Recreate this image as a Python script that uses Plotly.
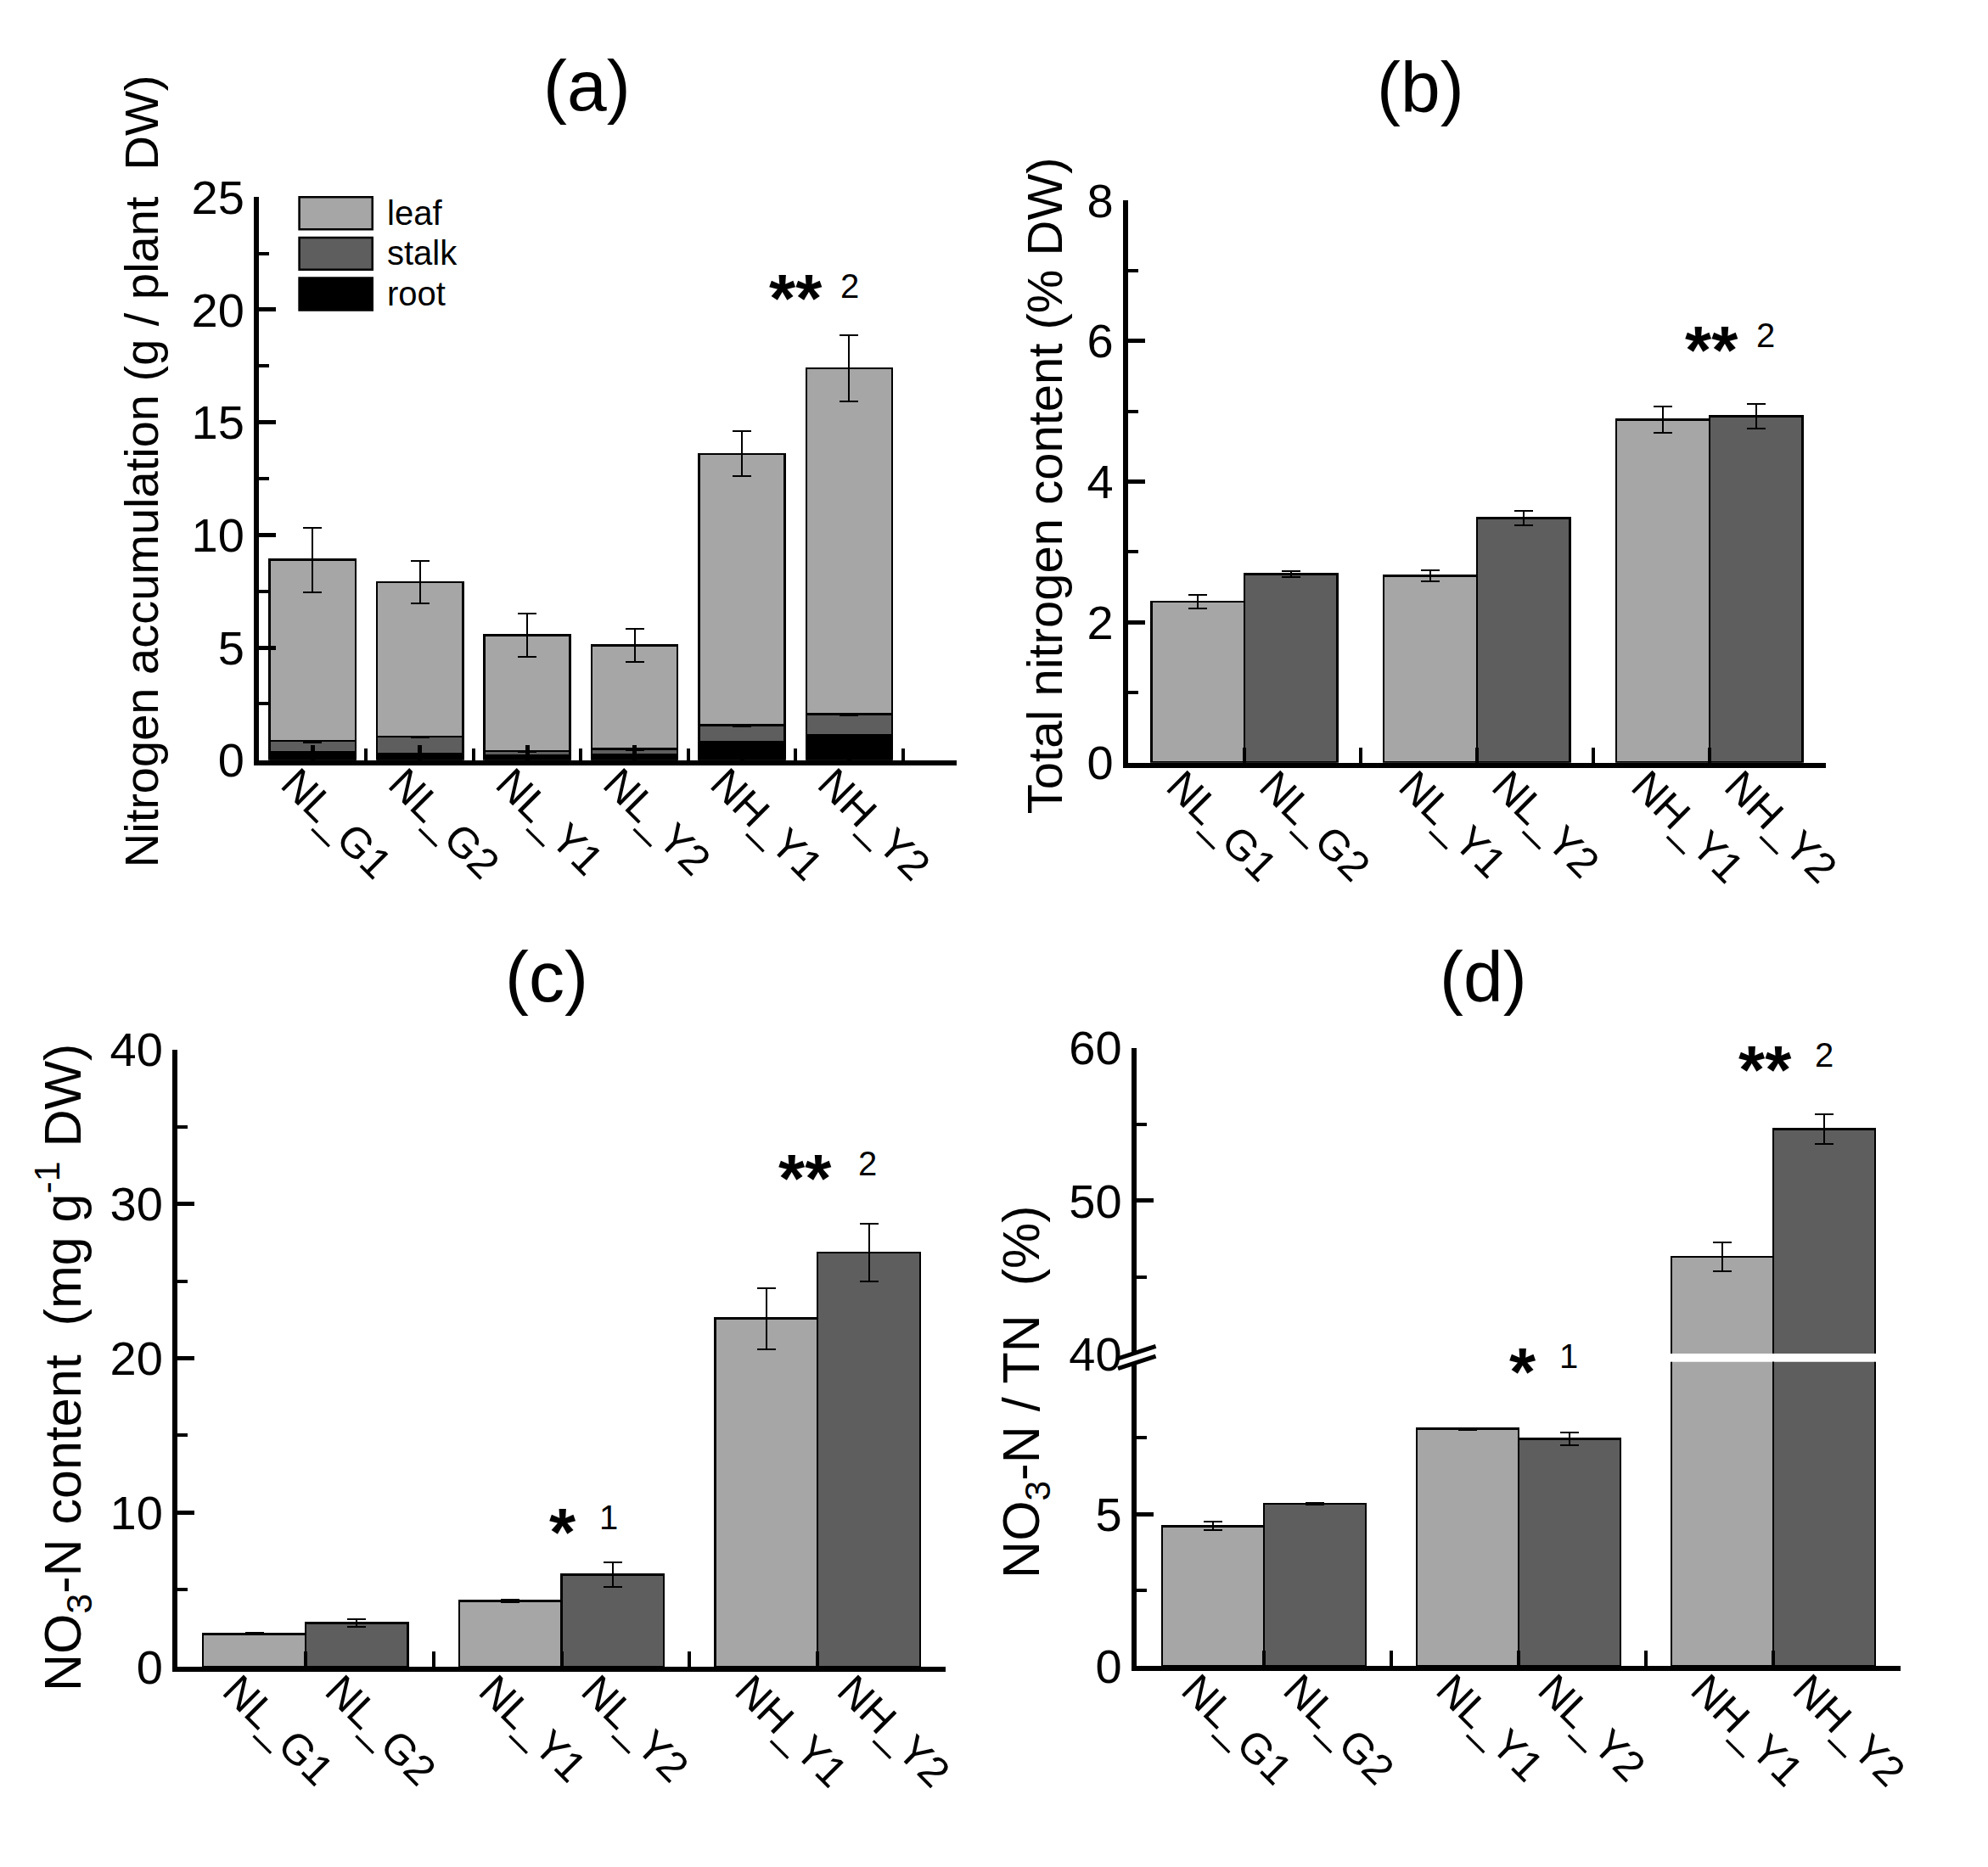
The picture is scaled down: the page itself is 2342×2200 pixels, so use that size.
import plotly.graph_objects as go

W, H = 2342, 2200
FONT = "Liberation Sans, Arial, sans-serif"
LIGHT = "#a6a6a6"
DARK = "#5e5e5e"
ROOT = "#000000"

groups = ["NL_G1", "NL_G2", "NL_Y1", "NL_Y2", "NH_Y1", "NH_Y2"]

# (a) nitrogen accumulation, stacked by organ
root_n = [0.35, 0.30, 0.20, 0.25, 0.80, 1.10]
stalk_n = [0.50, 0.75, 0.20, 0.25, 0.75, 0.95]
leaf_n = [8.05, 6.85, 5.15, 4.60, 12.05, 15.35]
root_err = [0.05, 0.05, 0.05, 0.05, 0.05, 0.05]
stalk_err = [0.06, 0.05, 0.04, 0.04, 0.05, 0.06]
leaf_err = [1.43, 0.93, 0.95, 0.74, 1.00, 1.47]

# (b) total nitrogen content (% DW)
tn = [2.29, 2.68, 2.66, 3.48, 4.88, 4.93]
tn_err = [0.10, 0.04, 0.08, 0.10, 0.19, 0.18]

# (c) NO3-N content (mg/g DW)
no3 = [2.14, 2.85, 4.28, 5.97, 22.57, 26.85]
no3_err = [0.05, 0.25, 0.08, 0.80, 1.97, 1.86]

# (d) NO3-N / TN (%), broken axis
ratio = [4.60, 5.34, 7.80, 7.47, 46.33, 54.69]
ratio_err = [0.14, 0.03, 0.03, 0.21, 0.96, 0.96]


def fx(p):
    return p / W


def fy(p):
    return 1 - p / H


axis_style = dict(showline=True, linecolor="black", linewidth=6, mirror=False,
                  ticks="inside", tickcolor="black", tickwidth=5, ticklen=20,
                  showgrid=False, zeroline=False,
                  tickfont=dict(family=FONT, size=56, color="black"))


def minor(vals, ln=12):
    return dict(tickmode="array", tickvals=vals, ticks="inside", ticklen=ln,
                tickwidth=4, tickcolor="black", showgrid=False)


err = lambda a: dict(type="data", array=a, color="black", thickness=2, width=11)
bar_line = dict(color="black", width=2.5)

fig = go.Figure()

# (a)
xs_a = [1, 2, 3, 4, 5, 6]
for name, vals, e, col in [("root", root_n, root_err, ROOT),
                           ("stalk", stalk_n, stalk_err, DARK),
                           ("leaf", leaf_n, leaf_err, LIGHT)]:
    fig.add_trace(go.Bar(x=xs_a, y=vals, width=0.8, name=name, marker_color=col,
                         marker_line=bar_line, error_y=err(e),
                         xaxis="x", yaxis="y", showlegend=False))

# (b)-(d): paired bars, light = first of pair, dark = second
pos = [2 * g + 0.6 + 0.8 * k for g in range(3) for k in range(2)]


def pair(vals, errs, xa, ya):
    for k, col in [(0, LIGHT), (1, DARK)]:
        fig.add_trace(go.Bar(x=pos[k::2], y=vals[k::2], width=0.8, marker_color=col,
                             marker_line=bar_line, error_y=err(errs[k::2]),
                             xaxis=xa, yaxis=ya, showlegend=False))


pair(tn, tn_err, "x2", "y2")
pair(no3, no3_err, "x3", "y3")
pair(ratio, ratio_err, "x4", "y4")
pair(ratio, ratio_err, "x4", "y5")

xlab = dict(tickangle=45, tickfont=dict(family=FONT, size=50, color="black"),
            ticklabelstandoff=-28, ticklabelshift=-22)

fig.update_layout(
    width=W, height=H, margin=dict(l=0, r=0, t=0, b=0),
    paper_bgcolor="white", plot_bgcolor="rgba(0,0,0,0)",
    barmode="stack", font=dict(family=FONT, color="black"),
    xaxis=dict(axis_style, **xlab, domain=[fx(300), fx(1130)], range=[0.5, 7], anchor="y",
               tickvals=xs_a, ticktext=groups, ticklen=18,
               minor=minor([1.5, 2.5, 3.5, 4.5, 5.5, 6.5, 7], 14)),
    yaxis=dict(axis_style, domain=[fy(882), fy(199)], range=[0, 25], anchor="x",
               tickvals=[0, 5, 10, 15, 20, 25], minor=minor([2.5, 7.5, 12.5, 17.5, 22.5])),
    xaxis2=dict(axis_style, **xlab, domain=[fx(1334), fx(2164)], range=[0, 6], anchor="y2",
                tickvals=pos, ticktext=groups, ticklen=0,
                minor=minor([1, 2, 3, 4, 5, 6], 18)),
    yaxis2=dict(axis_style, domain=[fy(885), fy(203)], range=[0, 8], anchor="x2",
                tickvals=[0, 2, 4, 6, 8], minor=minor([1, 3, 5, 7])),
    xaxis3=dict(axis_style, **xlab, domain=[fx(203), fx(1117)], range=[0, 6], anchor="y3",
                tickvals=pos, ticktext=groups, ticklen=0,
                minor=minor([1, 2, 3, 4, 5, 6], 18)),
    yaxis3=dict(axis_style, domain=[fy(1982), fy(1233)], range=[0, 40], anchor="x3",
                tickvals=[0, 10, 20, 30, 40], minor=minor([5, 15, 25, 35])),
    xaxis4=dict(axis_style, **xlab, domain=[fx(1344), fx(2253)], range=[0, 6], anchor="y4",
                tickvals=pos, ticktext=groups, ticklen=0,
                minor=minor([1, 2, 3, 4, 5, 6], 18)),
    yaxis4=dict(axis_style, domain=[fy(1981), fy(1612)], range=[0, 10], anchor="x4",
                tickvals=[0, 5], minor=minor([2.5, 7.5])),
    yaxis5=dict(axis_style, domain=[fy(1602), fy(1231)], range=[40, 60], anchor="x4",
                tickvals=[40, 50, 60], minor=minor([45, 55])),
)


def note(txt, x, y, size, bold=False, angle=0, anchor="center"):
    fig.add_annotation(x=fx(x), y=fy(y), xref="paper", yref="paper", text=txt,
                       showarrow=False, textangle=angle, xanchor=anchor, yanchor="middle",
                       font=dict(family=FONT, size=size, color="black",
                                 weight="bold" if bold else "normal"))


# legend for (a), drawn as boxes + text
for (name, col), top in zip([("leaf", LIGHT), ("stalk", DARK), ("root", ROOT)], [199, 248, 297]):
    fig.add_shape(type="rect", xref="paper", yref="paper",
                  x0=fx(348), x1=fx(435), y0=fy(top + 39), y1=fy(top),
                  fillcolor=col, line=dict(color="black", width=2.5))
    note(name, 450, top + 19, 40, anchor="left")

# axis break marks on (d)
for y0 in [1608, 1620]:
    fig.add_shape(type="line", xref="paper", yref="paper",
                  x0=fx(1322), x1=fx(1367), y0=fy(y0), y1=fy(y0 - 15),
                  line=dict(color="black", width=5))

# panel titles
for txt, x, y in [("(a)", 690, 64), ("(b)", 1682, 66), ("(c)", 642, 1145), ("(d)", 1757, 1145)]:
    note(txt, x, y, 84)

# y-axis titles
ytitles = [("Nitrogen accumulation (g / plant  DW)", 160, 531, 56),
           ("Total nitrogen content (% DW)", 1234, 549, 58),
           ("NO<sub>3</sub>-N content  (mg g<sup>-1</sup> DW)", 66, 1619, 61),
           ("NO<sub>3</sub>-N / TN  (%)", 1212, 1649, 61)]
for txt, x, y, size in ytitles:
    note(txt, x, y, size, angle=-90)

# significance marks: stars centre (sx, sy), number centre (nx, ny)
stars = [("**", "2", 939, 314, 1003, 307),
         ("**", "2", 2028, 376, 2093, 366),
         ("**", "2", 950, 1381, 1024, 1371),
         ("*", "1", 662, 1811, 716, 1801),
         ("**", "2", 2092, 1249, 2162, 1240),
         ("*", "1", 1804, 1616, 1858, 1605)]
for s, n, sx, sy, nx, ny in stars:
    note(s, sx, sy + 8, 80, bold=True)
    note(n, nx, ny, 40)

fig.write_html("out.html")
